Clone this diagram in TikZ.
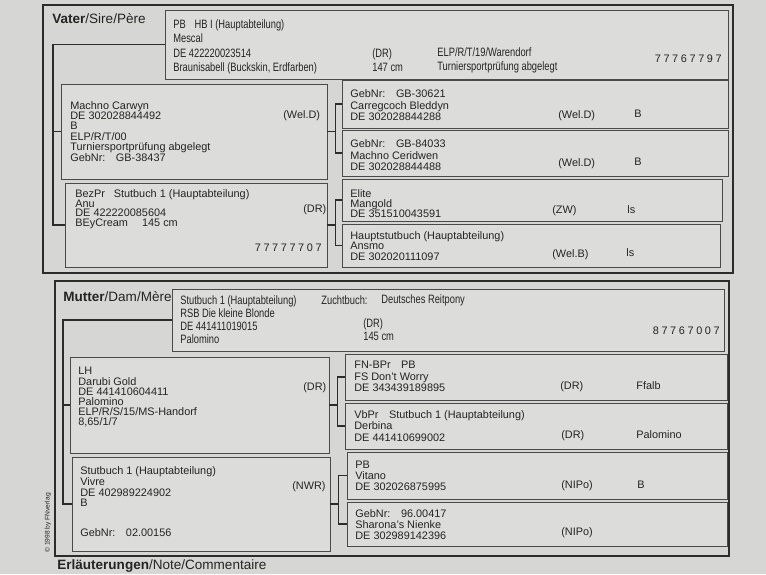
\documentclass[tikz,border=0pt]{standalone}
\usepackage{fontspec}
\setmainfont{Liberation Sans}
\newfontfamily\pednarrow[FakeStretch=0.77]{Liberation Sans}
\newfontfamily\pednum[LetterSpace=24]{Liberation Sans}
\usetikzlibrary{fit}
\definecolor{pedpaper}{HTML}{D6D6D4}
\definecolor{pedbox}{HTML}{DCDCDA}
\definecolor{pedink}{HTML}{2C2C2C}
\definecolor{pedline}{HTML}{4A4A4A}
\definecolor{pedtext}{HTML}{242424}

\begin{document}
\begin{tikzpicture}[x=0.02cm,y=-0.02cm,
  frame/.style={draw=pedink,line width=0.8pt},
  pbox/.style={draw=pedline,line width=0.45pt,fill=pedbox,inner sep=0pt,fit={#1}},
  conn/.style={pedink,line width=0.6pt},
  txt/.style={anchor=north west,inner sep=0pt,align=left,text=pedtext,font=\fontsize{6.2pt}{#1}\selectfont},
  txt/.default=6.6pt,
  ntxt/.style={txt=#1,font=\fontsize{6.9pt}{#1}\pednarrow},
  lbl/.style={anchor=west,inner sep=0pt,text=pedtext,font=\fontsize{6.2pt}{7pt}\selectfont},
  nlbl/.style={lbl,font=\fontsize{6.9pt}{7pt}\pednarrow},
  num/.style={anchor=east,inner sep=0pt,text=pedtext,font=\fontsize{6.2pt}{7pt}\pednum},
  head/.style={anchor=west,inner sep=0pt,text=pedtext,font=\fontsize{7.7pt}{9pt}\selectfont}]
  \useasboundingbox (0,0) rectangle (766,574);
  \clip (0,0) rectangle (766,574);
  \fill[pedpaper] (0,0) rectangle (766,574);

  % Vater
  \draw[frame] (43,5) rectangle (733,273);
  \node[head] (vtitle) at (52,19) {\textbf{Vater}/Sire/Père};
  \node[pbox={(165,10) (728,79)}] (s) {};
  \node[ntxt=8.3pt] (s-t) at (173,19) {PB\hspace{5pt}HB I (Hauptabteilung)\\Mescal\\DE 422220023514\\Braunisabell (Buckskin, Erdfarben)};
  \node[ntxt=8pt] (s-dr) at (372,48) {(DR)\\147 cm};
  \node[ntxt=8pt] (s-elp) at (437,47) {ELP/R/T/19/Warendorf\\Turniersportprüfung abgelegt};
  \node[num] (s-nr) at (722,59) {77767797};

  \node[pbox={(61,84) (327,179)}] (ss) {};
  \node[txt=5.9pt] (ss-t) at (70,101) {Machno Carwyn\\DE 302028844492\\B\\ELP/R/T/00\\Turniersportprüfung abgelegt\\GebNr:\hspace{6pt}GB-38437};
  \node[lbl] (ss-r) at (283,116) {(Wel.D)};

  \node[pbox={(65,183) (327,267)}] (sd) {};
  \node[txt=5.6pt] (sd-t) at (75,189) {BezPr\hspace{5pt}Stutbuch 1 (Hauptabteilung)\\Anu\\DE 422220085604\\BEyCream\hspace{8pt}145 cm};
  \node[lbl] (sd-r) at (303,210) {(DR)};
  \node[num] (sd-nr) at (322,248) {77777707};

  \node[pbox={(342,80) (728,128)}] (sss) {};
  \node[txt=6.7pt] (sss-t) at (350,89) {GebNr:\hspace{6pt}GB-30621\\Carregcoch Bleddyn\\DE 302028844288};
  \node[lbl] (sss-r) at (558,116) {(Wel.D)};
  \node[lbl] (sss-f) at (634,114) {B};

  \node[pbox={(342,130) (728,176)}] (ssd) {};
  \node[txt=6.7pt] (ssd-t) at (350,139) {GebNr:\hspace{6pt}GB-84033\\Machno Ceridwen\\DE 302028844488};
  \node[lbl] (ssd-r) at (558,164) {(Wel.D)};
  \node[lbl] (ssd-f) at (634,162) {B};

  \node[pbox={(342,179) (722,221)}] (sds) {};
  \node[txt=5.7pt] (sds-t) at (350,189) {Elite\\Mangold\\DE 351510043591};
  \node[lbl] (sds-r) at (552,211) {(ZW)};
  \node[lbl] (sds-f) at (627,210) {ls};

  \node[pbox={(342,224) (720,267)}] (sdd) {};
  \node[txt=6pt] (sdd-t) at (350,231) {Hauptstutbuch (Hauptabteilung)\\Ansmo\\DE 302020111097};
  \node[lbl] (sdd-r) at (552,255) {(Wel.B)};
  \node[lbl] (sdd-f) at (626,253) {ls};

  \coordinate (vj) at (53,0);
  \draw[conn] (s.west) -| (vj |- sd.west) -- (sd.west);
  \draw[conn] (vj |- ss.west) -- (ss.west);
  \draw[conn] (ss.east) -- ++(8,0) coordinate (ssj);
  \draw[conn] (sss.west) -| (ssj) |- (ssd.west);
  \draw[conn] (sd.east) -- ++(8,0) coordinate (sdj);
  \draw[conn] (sds.west) -| (sdj) |- (sdd.west);

  % Mutter
  \draw[frame] (55,281) rectangle (729,556);
  \node[head] (mtitle) at (63,297) {\textbf{Mutter}/Dam/Mère};
  \node[pbox={(172,289) (724,351)}] (d) {};
  \node[ntxt=7.5pt] (d-t) at (180,295) {Stutbuch 1 (Hauptabteilung)\\RSB Die kleine Blonde\\DE 441411019015\\Palomino};
  \node[nlbl] (d-zb) at (321,300) {Zuchtbuch:};
  \node[nlbl] (d-rp) at (381,300) {Deutsches Reitpony};
  \node[ntxt=7.5pt] (d-dr) at (363,318) {(DR)\\145 cm};
  \node[num] (d-nr) at (720,331) {87767007};

  \node[pbox={(70,357) (329,453)}] (ds) {};
  \node[txt=5.8pt] (ds-t) at (78,367) {LH\\Darubi Gold\\DE 441410604411\\Palomino\\ELP/R/S/15/MS-Handorf\\8,65/1/7};
  \node[lbl] (ds-r) at (303,388) {(DR)};

  \node[pbox={(72,457) (330,551)}] (dd) {};
  \node[txt=6.2pt] (dd-t) at (80,466) {Stutbuch 1 (Hauptabteilung)\\Vivre\\DE 402989224902\\B};
  \node[lbl] (dd-g) at (80,533) {GebNr:\hspace{6pt}02.00156};
  \node[lbl] (dd-r) at (292,487) {(NWR)};

  \node[pbox={(345,354) (727,400)}] (dss) {};
  \node[txt=6.5pt] (dss-t) at (354,361) {FN-BPr\hspace{6pt}PB\\FS Don't Worry\\DE 343439189895};
  \node[lbl] (dss-r) at (560,387) {(DR)};
  \node[lbl] (dss-f) at (636,386) {Ffalb};

  \node[pbox={(345,403) (727,449)}] (dsd) {};
  \node[txt=6.5pt] (dsd-t) at (354,410) {VbPr\hspace{6pt}Stutbuch 1 (Hauptabteilung)\\Derbina\\DE 441410699002};
  \node[lbl] (dsd-r) at (561,436) {(DR)};
  \node[lbl] (dsd-f) at (636,435) {Palomino};

  \node[pbox={(347,452) (727,499)}] (dds) {};
  \node[txt=6.3pt] (dds-t) at (355,461) {PB\\Vitano\\DE 302026875995};
  \node[lbl] (dds-r) at (561,486) {(NIPo)};
  \node[lbl] (dds-f) at (637,485) {B};

  \node[pbox={(347,502) (727,546)}] (ddd) {};
  \node[txt=6.2pt] (ddd-t) at (355,509) {GebNr:\hspace{6pt}96.00417\\Sharona's Nienke\\DE 302989142396};
  \node[lbl] (ddd-r) at (561,533) {(NIPo)};

  \coordinate (mj) at (63,0);
  \draw[conn] (d.west) -| (mj |- dd.west) -- (dd.west);
  \draw[conn] (mj |- ds.west) -- (ds.west);
  \draw[conn] (ds.east) -- ++(8,0) coordinate (dsj);
  \draw[conn] (dss.west) -| (dsj) |- (dsd.west);
  \draw[conn] (dd.east) -- ++(8,0) coordinate (ddj);
  \draw[conn] (dds.west) -| (ddj) |- (ddd.west);

  \node[rotate=90,inner sep=0pt,text=pedtext,font=\fontsize{3.8pt}{4pt}\selectfont] (copy) at (48,523) {© 1998 by FNverlag};
  \node[head] (note) at (57,566) {\textbf{Erläuterungen}/Note/Commentaire};
\end{tikzpicture}
\end{document}
